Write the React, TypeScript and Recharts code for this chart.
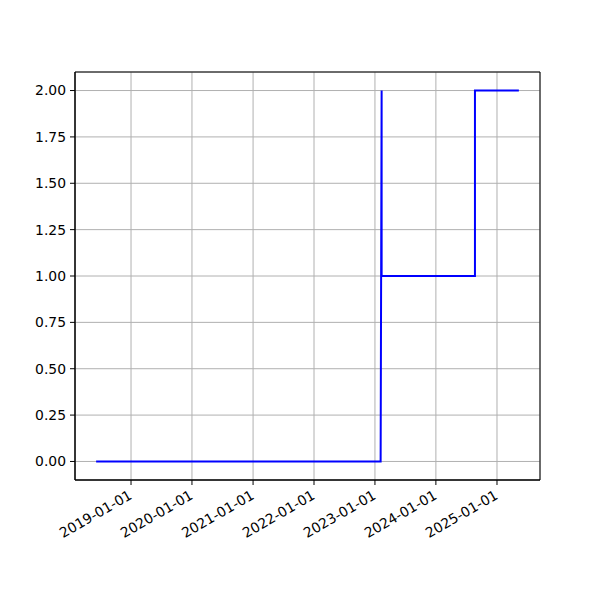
import React from 'react'
import {
  LineChart,
  Line,
  XAxis,
  YAxis,
  CartesianGrid,
  ReferenceArea,
} from 'recharts'

// step series
const dates = [
  '2018-06-06',
  '2023-02-04',
  '2023-02-10',
  '2023-02-10',
  '2024-08-22',
  '2024-08-22',
  '2025-05-12',
]
const values = [0, 0, 2, 1, 1, 2, 2]

const xTickDates = [
  '2019-01-01',
  '2020-01-01',
  '2021-01-01',
  '2022-01-01',
  '2023-01-01',
  '2024-01-01',
  '2025-01-01',
]
const yTicks = [0, 0.25, 0.5, 0.75, 1, 1.25, 1.5, 1.75, 2]

const toTs = (s: string) => {
  const [y, m, d] = s.split('-').map(Number)
  return Date.UTC(y, m - 1, d)
}

const data = dates.map((d, i) => ({ t: toTs(d), v: values[i] }))
const xTicks = xTickDates.map(toTs)

const tMin = Math.min(...data.map(d => d.t))
const tMax = Math.max(...data.map(d => d.t))
const pad = (tMax - tMin) * 0.05
const xDomain = [tMin - pad, tMax + pad]
const yDomain = [-0.1, 2.1]

const FONT = 'DejaVu Sans, sans-serif'
const fmtDate = (ts: number) => new Date(ts).toISOString().slice(0, 10)

const DateTick = (props: any) => {
  const { x, y, payload } = props
  return (
    <g transform={`translate(${x + 2},${y + 10})`}>
      <text
        transform="rotate(-30)"
        textAnchor="end"
        fontSize={13.9}
        fontFamily={FONT}
        fill="#000"
      >
        {fmtDate(payload.value)}
      </text>
    </g>
  )
}

export default function App() {
  return (
    <div style={{ position: 'absolute', left: 0, top: 0, width: 600, height: 600, background: '#fff' }}>
      <LineChart
        width={600}
        height={600}
        data={data}
        margin={{ top: 72, right: 60, left: 0, bottom: 0 }}
      >
        <CartesianGrid stroke="#b0b0b0" strokeWidth={1} />
        <XAxis
          dataKey="t"
          type="number"
          domain={xDomain}
          ticks={xTicks}
          allowDataOverflow
          height={120}
          tickSize={5}
          tickMargin={3}
          stroke="#000"
          tickLine={{ stroke: '#000' }}
          tick={<DateTick />}
          interval={0}
        />
        <YAxis
          type="number"
          domain={yDomain}
          ticks={yTicks}
          allowDataOverflow
          width={75}
          tickSize={5}
          tickMargin={4}
          stroke="#000"
          tickLine={{ stroke: '#000' }}
          tickFormatter={(v: number) => v.toFixed(2)}
          tick={{ fill: '#000', fontSize: 13.9, fontFamily: FONT }}
          interval={0}
        />
        <ReferenceArea
          x1={xDomain[0]}
          x2={xDomain[1]}
          y1={yDomain[0]}
          y2={yDomain[1]}
          fill="none"
          stroke="#000"
          strokeWidth={1}
          ifOverflow="extendDomain"
        />
        <Line
          type="linear"
          dataKey="v"
          stroke="#0000ff"
          strokeWidth={2}
          dot={false}
          isAnimationActive={false}
        />
      </LineChart>
    </div>
  )
}
